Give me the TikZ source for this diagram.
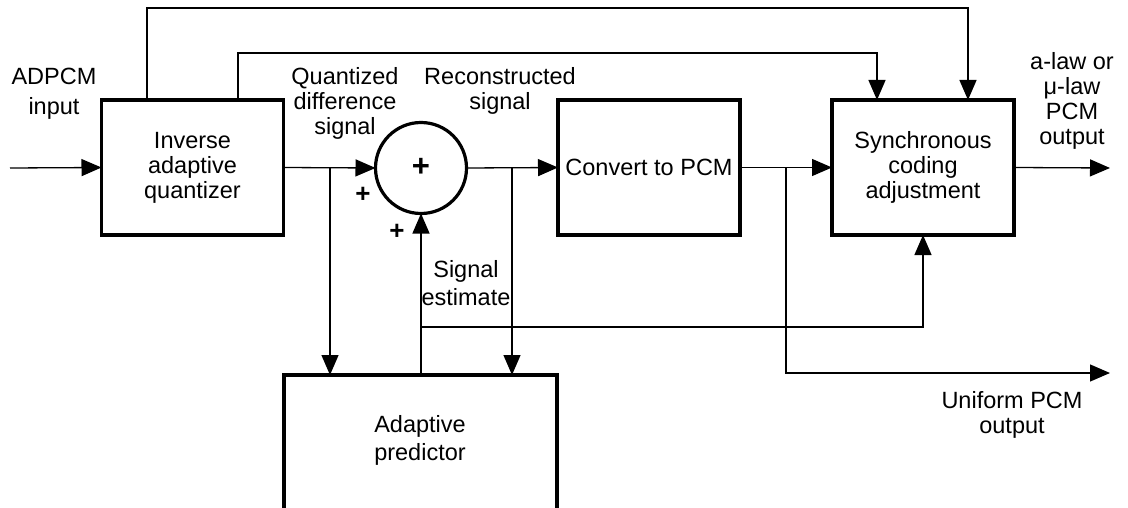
\documentclass[tikz,border=0pt]{standalone}
\usepackage{fontspec}
\setmainfont{Liberation Sans}
\usetikzlibrary{arrows.meta,calc}
\begin{document}
\begin{tikzpicture}[x=1pt,y=-1pt,
  every node/.style={font=\fontsize{23.5}{25}\selectfont, inner sep=0pt, outer sep=0pt},
  blk/.style={draw, line width=3.4pt, rectangle, minimum width=182pt, minimum height=135pt, align=center},
  wire/.style={line width=1.3pt},
  arr/.style={wire, -{Triangle[length=20pt,width=17pt]}},
  lbl/.style={align=center},
  sgn/.style={font=\fontsize{26}{26}\selectfont\bfseries}
]
\useasboundingbox (0,0) rectangle (1128,508);

% blocks
\node[blk] (iaq) at (192.5,167.5) {Inverse\\adaptive\\quantizer};
\node[blk] (conv) at (649,167.5) {Convert to PCM};
\node[blk] (sync) at (923,167.5) {Synchronous\\coding\\adjustment};
\node[draw, line width=3.2pt, circle, minimum size=91pt] (sum) at (421,168) {};
\node[font=\fontsize{31}{31}\selectfont\bfseries] (plus) at (421,167) {+};
\node[draw, line width=3.4pt, rectangle, minimum width=273pt, minimum height=170pt] (pred) at (420.5,460) {};
\node[lbl, font=\fontsize{23.5}{28}\selectfont] (predtxt) at (420,440) {Adaptive\\predictor};

% labels
\node[lbl, font=\fontsize{23.5}{30}\selectfont] (inlbl) at (54,94) {ADPCM\\input};
\node[lbl] (qlbl) at (345,103) {Quantized\\difference\\signal};
\node[lbl] (rlbl) at (500,90.5) {Reconstructed\\signal};
\node[lbl] (alaw) at (1072,101) {a-law or\\μ-law\\PCM\\output};
\node[lbl, font=\fontsize{23.5}{28}\selectfont] (selbl) at (466,283) {Signal\\estimate};
\node[lbl] (ulbl) at (1012,415) {Uniform PCM\\output};
\node[sgn] (p1) at (363,195) {+};
\node[sgn] (p2) at (397,232) {+};

% coordinates
\coordinate (in) at (10,168);
\coordinate (t1) at (147,8);
\coordinate (t2) at (238,53);
\coordinate (s1) at (968,0);
\coordinate (s2) at (877,0);
\coordinate (b1) at (330,168);
\coordinate (b2) at (512,168);
\coordinate (b3) at (786,168);
\coordinate (e) at (421,327);
\coordinate (ao) at (1110,168);
\coordinate (uc) at (786,373);
\coordinate (uo) at (1110,373);

% connectors
\draw[arr] (in) -- (iaq.west);
\draw[arr] (iaq.north -| t1) -- (t1) -| (sync.north -| s1);
\draw[arr] (iaq.north -| t2) -- (t2) -| (sync.north -| s2);
\draw[arr] (iaq.east) -- (sum.west);
\draw[arr] (b1) -- (pred.north -| b1);
\draw[arr] (sum.east) -- (conv.west);
\draw[arr] (b2) -- (pred.north -| b2);
\draw[arr] (pred.north -| sum) -- (sum.south);
\draw[arr] (e) -| (sync.south);
\draw[arr] (conv.east) -- (sync.west);
\draw[arr] (b3) -- (uc) -- (uo);
\draw[arr] (sync.east) -- (ao);
\end{tikzpicture}
\end{document}
